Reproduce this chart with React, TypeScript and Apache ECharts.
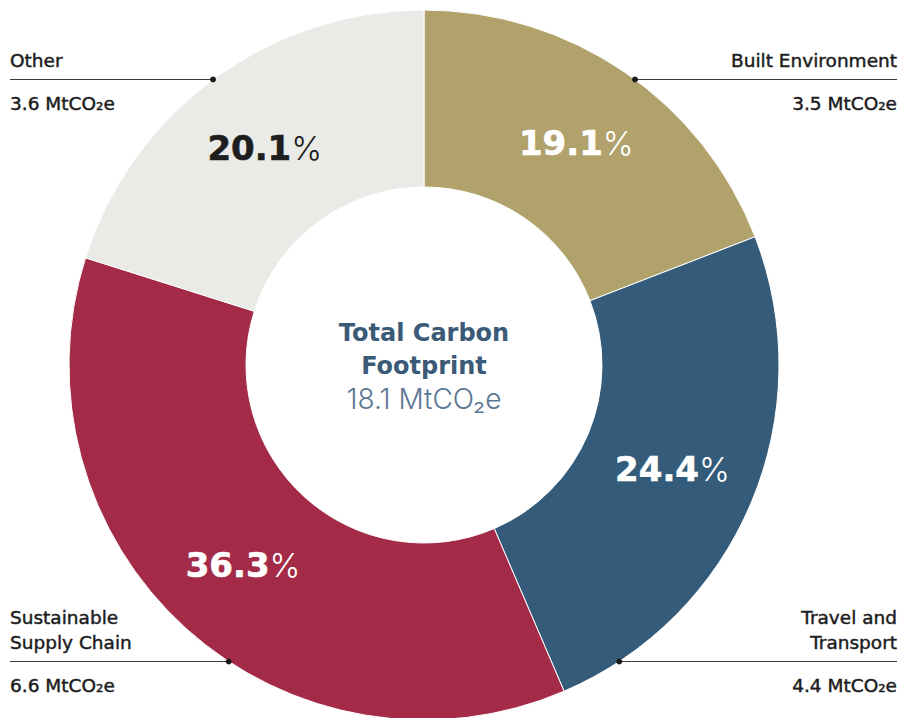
import React, { useEffect, useRef } from "react";
import * as echarts from "echarts";

const categories = ["Built Environment", "Travel and Transport", "Sustainable Supply Chain", "Other"];
const displayNames = ["Built Environment", "Travel and\nTransport", "Sustainable\nSupply Chain", "Other"];
const shares = [19.1, 24.4, 36.3, 20.1];
const emissions = [3.5, 4.4, 6.6, 3.6];
const totalEmissions = 18.1;
const unit = "MtCO₂e";
const centerTitle = ["Total Carbon", "Footprint"];

const sliceColors = ["#B1A26C", "#345C7A", "#A32B48", "#EAEBE6"];
const shareTextColors = ["#ffffff", "#ffffff", "#ffffff", "#1e1e1e"];

const CX = 424;
const CY = 365;
const R_IN = 178;
const R_OUT = 355;
// layout of outer callouts: [side, lineY]
const calloutLayout: Array<{ side: "left" | "right"; lineY: number }> = [
  { side: "right", lineY: 79.5 },
  { side: "right", lineY: 661.5 },
  { side: "left", lineY: 661.5 },
  { side: "left", lineY: 79.5 },
];
const LEFT_X = 10;
const RIGHT_X = 897;

function dotX(i: number) {
  const { side, lineY } = calloutLayout[i];
  const dy = lineY - CY;
  const dx = Math.sqrt(R_OUT * R_OUT - dy * dy);
  return side === "left" ? CX - dx : CX + dx;
}

export default function App() {
  const ref = useRef<HTMLDivElement>(null);
  useEffect(() => {
    if (!ref.current) return;
    const chart = echarts.init(ref.current, null, { renderer: "svg" });
    const baseData = categories.map((c, i) => ({ name: c, value: shares[i] }));
    const labelFont = "DejaVu Sans";
    const outerLabel = {
      show: true,
      position: "outside",
      fontFamily: labelFont,
      fontSize: 18.5,
      lineHeight: 25,
      color: "#1c1c1c",
      textBorderColor: "#1c1c1c",
      textBorderWidth: 0.45,
      overflow: "none",
      width: 400,
    };
    const option: any = {
      animation: false,
      backgroundColor: "#ffffff",
      series: [
        {
          type: "pie",
          center: [CX, CY],
          radius: [R_IN, R_OUT],
          startAngle: 90,
          clockwise: true,
          silent: true,
          emphasis: { disabled: true },
          itemStyle: { borderColor: "#ffffff", borderWidth: 1 },
          labelLine: { show: false },
          data: baseData.map((d, i) => ({
            ...d,
            itemStyle: { color: sliceColors[i] },
            label: {
              rich: {
                b: {
                  fontFamily: labelFont,
                  fontWeight: "bold",
                  fontSize: 34,
                  color: shareTextColors[i],
                  textBorderColor: shareTextColors[i],
                  textBorderWidth: 0.6,
                },
                p: { fontFamily: "Inter", fontWeight: 300, fontSize: 33, color: shareTextColors[i] },
              },
            },
          })),
          label: {
            show: true,
            position: "inside",
            formatter: (p: any) => `{b|${shares[p.dataIndex].toFixed(1)}}{p|%}`,
          },
        },
        {
          type: "pie",
          center: [CX, CY],
          radius: [R_IN, R_OUT],
          startAngle: 90,
          clockwise: true,
          silent: true,
          emphasis: { disabled: true },
          itemStyle: { color: "rgba(0,0,0,0)" },
          data: baseData,
          label: {
            ...outerLabel,
            formatter: (p: any) => displayNames[p.dataIndex],
          },
          labelLine: { show: true, lineStyle: { color: "#3a3a3a", width: 1.2 } },
          labelLayout: (p: any) => {
            const i = p.dataIndex;
            const { side, lineY } = calloutLayout[i];
            const ex = side === "left" ? LEFT_X : RIGHT_X;
            return {
              x: ex,
              y: lineY - 7,
              align: side,
              verticalAlign: "bottom",
              labelLinePoints: [
                [dotX(i), lineY],
                [ex, lineY],
                [ex, lineY],
              ],
            };
          },
        },
        {
          type: "pie",
          center: [CX, CY],
          radius: [R_IN, R_OUT],
          startAngle: 90,
          clockwise: true,
          silent: true,
          emphasis: { disabled: true },
          itemStyle: { color: "rgba(0,0,0,0)" },
          data: baseData,
          labelLine: { show: false },
          label: {
            ...outerLabel,
            formatter: (p: any) => `${emissions[p.dataIndex].toFixed(1)} ${unit}`,
          },
          labelLayout: (p: any) => {
            const i = p.dataIndex;
            const { side, lineY } = calloutLayout[i];
            const ex = side === "left" ? LEFT_X : RIGHT_X;
            return { x: ex, y: lineY + 11, align: side, verticalAlign: "top" };
          },
        },
      ],
      graphic: [
        ...categories.map((_, i) => ({
          type: "circle",
          silent: true,
          z: 100,
          shape: { cx: dotX(i), cy: calloutLayout[i].lineY, r: 3 },
          style: { fill: "#1a1a1a" },
        })),
        {
          type: "text",
          silent: true,
          z: 100,
          x: CX,
          y: CY + 1,
          style: {
            text: `{t|${centerTitle[0]}}\n{t|${centerTitle[1]}}\n{v|${totalEmissions.toFixed(1)} ${unit}}`,
            align: "center",
            verticalAlign: "middle",
            fill: "#3b5a77",
            rich: {
              t: { fontFamily: labelFont, fontWeight: "bold", fontSize: 24, lineHeight: 33, fill: "#3b5a77", color: "#3b5a77", align: "center" },
              v: { fontFamily: "Inter", fontWeight: 300, fontSize: 28, lineHeight: 33, fill: "#5a7794", color: "#5a7794", align: "center" },
            },
          },
        },
      ],
    };
    chart.setOption(option);
    return () => chart.dispose();
  }, []);
  return <div ref={ref} style={{ position: "fixed", left: 0, top: 0, width: 899, height: 718 }} />;
}
